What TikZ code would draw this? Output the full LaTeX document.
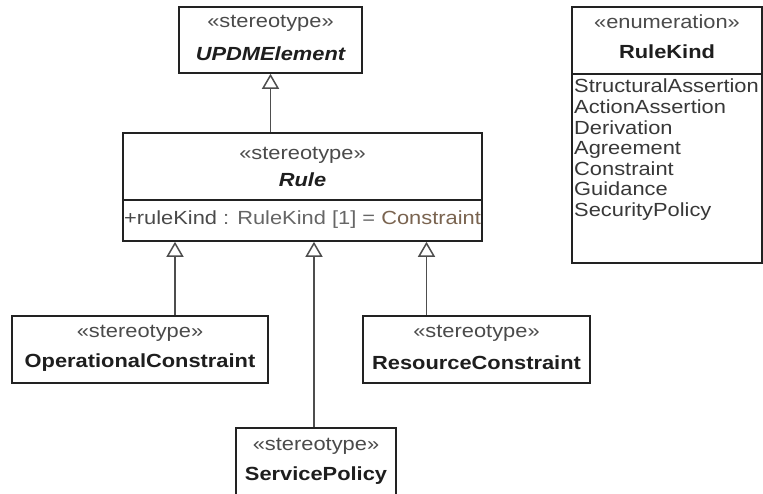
\documentclass[tikz,border=0pt]{standalone}
\usepackage{fontspec}
\setmainfont[FakeStretch=1.15]{Liberation Sans}
\usetikzlibrary{arrows.meta}
\definecolor{bord}{HTML}{222222}
\definecolor{stereo}{HTML}{4A4A4A}
\definecolor{nametxt}{HTML}{1E1E1E}
\definecolor{typetxt}{HTML}{666666}
\definecolor{valtxt}{HTML}{7A6450}
\begin{document}
\begin{tikzpicture}[x=1pt,y=-1pt,
  box/.style={draw=bord, line width=1.6pt, fill=white, inner sep=0pt},
  txt/.style={font=\fontsize{19}{22}\selectfont, inner sep=0pt, text=stereo},
  nm/.style={txt, text=nametxt, font=\fontsize{19}{22}\selectfont\bfseries},
  gen/.style={draw=bord!80, line width=1.5pt, -{Triangle[open, width=17pt, length=15pt, line width=1.5pt]}}
]
\useasboundingbox (0,0) rectangle (763,493);
\clip (0,0) rectangle (763,493);
\fill[white] (0,0) rectangle (763,493);

% boxes
\node[box, minimum width=183, minimum height=66] (updm) at (270.5,40) {};
\node[box, minimum width=359, minimum height=108] (rule) at (302.5,187) {};
\node[box, minimum width=190, minimum height=256] (kind) at (667,135) {};
\node[box, minimum width=256, minimum height=67] (oc) at (140,349.5) {};
\node[box, minimum width=227, minimum height=67] (rc) at (476.5,349.5) {};
\node[box, minimum width=160, minimum height=84] (sp) at (316,470) {};

% compartment separators
\draw[bord, line width=1.6pt] (rule.west |- 0,200) -- (rule.east |- 0,200);
\draw[bord, line width=1.6pt] (kind.west |- 0,74) -- (kind.east |- 0,74);

% texts
\node[txt] (updmst) at (270.5,23) {«stereotype»};
\node[nm, font=\fontsize{19}{22}\selectfont\bfseries\itshape] (updmnm) at (270.5,54) {UPDMElement};

\node[txt] (rulest) at (302.5,155) {«stereotype»};
\node[nm, font=\fontsize{19}{22}\selectfont\bfseries\itshape] (rulenm) at (302.5,180) {Rule};
\node[txt] (ruleattr) at (302.5,220) {\textcolor{stereo}{+ruleKind} \textcolor{typetxt}{: RuleKind [1] =} \textcolor{valtxt}{Constraint}};

\node[txt] (kindst) at (667,22) {«enumeration»};
\node[nm] (kindnm) at (667,52) {RuleKind};
\foreach \t [count=\i] in {StructuralAssertion,ActionAssertion,Derivation,Agreement,Constraint,Guidance,SecurityPolicy}
  \node[txt, anchor=base west, text=bord!90] (item\i) at (574,{72.2+20.6*\i}) {\t};

\node[txt] (ocst) at (140,333) {«stereotype»};
\node[nm] (ocnm) at (140,363) {OperationalConstraint};

\node[txt] (rcst) at (476.5,333) {«stereotype»};
\node[nm] (rcnm) at (476.5,363) {ResourceConstraint};

\node[txt] (spst) at (316,446) {«stereotype»};
\node[nm] (spnm) at (316,476) {ServicePolicy};

% generalizations
\draw[gen] (updm.south |- rule.north) -- (updm.south);
\draw[gen] ([xshift=35pt]oc.north) -- ([xshift=35pt]oc.north |- rule.south);
\draw[gen] ([xshift=-2pt]sp.north) -- ([xshift=-2pt]sp.north |- rule.south);
\draw[gen] ([xshift=-50pt]rc.north) -- ([xshift=-50pt]rc.north |- rule.south);
\end{tikzpicture}
\end{document}
